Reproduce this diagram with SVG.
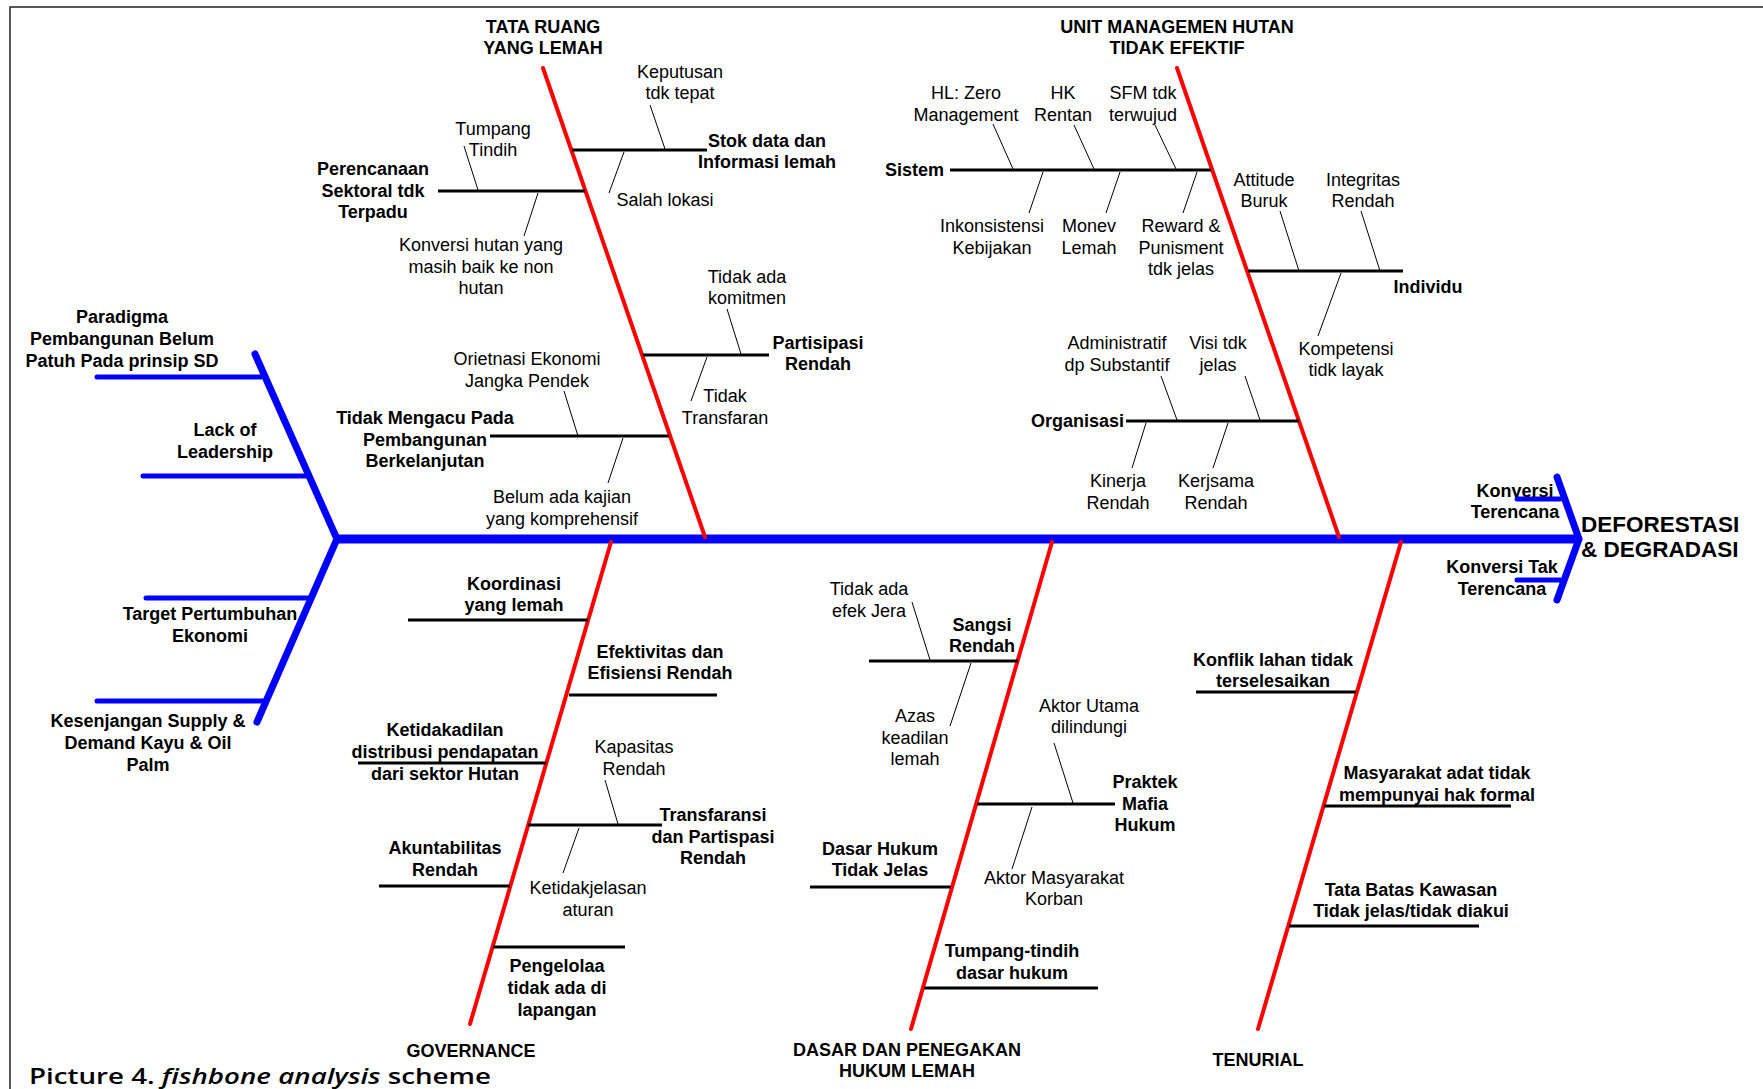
<svg xmlns="http://www.w3.org/2000/svg" width="1763" height="1089" viewBox="0 0 1763 1089">
<style>
text{font-family:"Liberation Sans",Arial,sans-serif;font-size:18px;fill:#000;text-anchor:middle}
.b{font-weight:bold}
.t{font-weight:bold}
.head{font-weight:bold;font-size:22.5px;text-anchor:start}
.cap{font-family:"Open Sans","Noto Sans",sans-serif;font-size:21px;text-anchor:start;font-weight:600}
.spine{stroke:#0000FF;stroke-width:9;fill:none}
.blue{stroke:#0000FF;stroke-width:7;stroke-linecap:round;fill:none}
.bluet{stroke:#0000FF;stroke-width:5;stroke-linecap:round;fill:none}
.red{stroke:#FF0000;stroke-width:4;stroke-linecap:round;fill:none}
.br{stroke:#000;stroke-width:3;fill:none}
.sub{stroke:#000;stroke-width:1;fill:none}
.frame{stroke:#222;stroke-width:1.5;fill:none}
</style>
<rect width="1763" height="1089" fill="#fff"/>
<path class="frame" d="M10,1089 V7 H1763"/>

<g id="connectors">
  <!-- spine and head -->
  <line class="spine" x1="337" y1="539" x2="1575" y2="539"/>
  <polyline class="blue" points="1557,477 1579,539 1557,600" stroke-linejoin="miter"/>
  <polyline class="blue" points="255,354 337,539 257,722" stroke-linejoin="miter"/>
  <line class="bluet" x1="1517" y1="499" x2="1560" y2="499"/>
  <line class="bluet" x1="1517" y1="580" x2="1560" y2="580"/>
  <!-- left blue ribs -->
  <line class="bluet" x1="97" y1="377" x2="261" y2="377"/>
  <line class="bluet" x1="143" y1="476" x2="306" y2="476"/>
  <line class="bluet" x1="146" y1="598" x2="310" y2="598"/>
  <line class="bluet" x1="97" y1="701" x2="263" y2="701"/>
  <!-- red bones -->
  <line class="red" x1="543" y1="68" x2="705" y2="537"/>
  <line class="red" x1="1177" y1="68" x2="1339" y2="537"/>
  <line class="red" x1="611" y1="542" x2="470" y2="1024"/>
  <line class="red" x1="1052" y1="542" x2="911" y2="1029"/>
  <line class="red" x1="1401" y1="542" x2="1258" y2="1029"/>
  <!-- bone 1 ribs -->
  <line class="br" x1="572" y1="150" x2="707" y2="150"/>
  <line class="sub" x1="650" y1="105" x2="665" y2="149"/>
  <line class="sub" x1="624" y1="152" x2="609" y2="193"/>
  <line class="br" x1="438" y1="191" x2="585" y2="191"/>
  <line class="sub" x1="464" y1="146" x2="478" y2="190"/>
  <line class="sub" x1="538" y1="193" x2="524" y2="236"/>
  <line class="br" x1="643" y1="355" x2="769" y2="355"/>
  <line class="sub" x1="727" y1="309" x2="741" y2="354"/>
  <line class="sub" x1="707" y1="357" x2="691" y2="401"/>
  <line class="br" x1="490" y1="436" x2="669" y2="436"/>
  <line class="sub" x1="564" y1="391" x2="578" y2="436"/>
  <line class="sub" x1="623" y1="438" x2="608" y2="483"/>
  <!-- bone 2 ribs -->
  <line class="br" x1="950" y1="170" x2="1211" y2="170"/>
  <line class="sub" x1="993" y1="124" x2="1013" y2="169"/>
  <line class="sub" x1="1074" y1="125" x2="1094" y2="169"/>
  <line class="sub" x1="1155" y1="125" x2="1176" y2="169"/>
  <line class="sub" x1="1043" y1="172" x2="1029" y2="213"/>
  <line class="sub" x1="1120" y1="172" x2="1106" y2="213"/>
  <line class="sub" x1="1197" y1="172" x2="1183" y2="213"/>
  <line class="br" x1="1248" y1="271" x2="1403" y2="271"/>
  <line class="sub" x1="1280" y1="211" x2="1299" y2="271"/>
  <line class="sub" x1="1361" y1="211" x2="1380" y2="271"/>
  <line class="sub" x1="1341" y1="273" x2="1318" y2="336"/>
  <line class="br" x1="1126" y1="421" x2="1299" y2="421"/>
  <line class="sub" x1="1161" y1="376" x2="1177" y2="420"/>
  <line class="sub" x1="1245" y1="376" x2="1260" y2="420"/>
  <line class="sub" x1="1146" y1="423" x2="1132" y2="468"/>
  <line class="sub" x1="1228" y1="423" x2="1213" y2="468"/>
  <!-- bone 3 ribs -->
  <line class="br" x1="408" y1="620" x2="588" y2="620"/>
  <line class="br" x1="569" y1="695" x2="717" y2="695"/>
  <line class="br" x1="358" y1="763" x2="546" y2="763"/>
  <line class="br" x1="528" y1="825" x2="662" y2="825"/>
  <line class="sub" x1="605" y1="780" x2="618" y2="824"/>
  <line class="sub" x1="579" y1="828" x2="563" y2="873"/>
  <line class="br" x1="379" y1="886" x2="510" y2="886"/>
  <line class="br" x1="493" y1="947" x2="625" y2="947"/>
  <!-- bone 4 ribs -->
  <line class="br" x1="869" y1="661" x2="1018" y2="661"/>
  <line class="sub" x1="912" y1="602" x2="930" y2="660"/>
  <line class="sub" x1="971" y1="663" x2="950" y2="726"/>
  <line class="br" x1="977" y1="804" x2="1115" y2="804"/>
  <line class="sub" x1="1054" y1="743" x2="1073" y2="803"/>
  <line class="sub" x1="1032" y1="807" x2="1012" y2="869"/>
  <line class="br" x1="810" y1="887" x2="951" y2="887"/>
  <line class="br" x1="924" y1="988" x2="1098" y2="988"/>
  <!-- bone 5 ribs -->
  <line class="br" x1="1196" y1="692" x2="1356" y2="692"/>
  <line class="br" x1="1324" y1="806" x2="1511" y2="806"/>
  <line class="br" x1="1289" y1="926" x2="1479" y2="926"/>
</g>

<!-- head -->
<g id="n-deforestasi"><text class="head" x="1581" y="532">DEFORESTASI</text><text class="head" x="1581" y="557">&amp; DEGRADASI</text></g>
<g id="n-konversi-terencana"><text class="b" x="1515" y="497">Konversi</text><text class="b" x="1515" y="518">Terencana</text></g>
<g id="n-konversi-tak"><text class="b" x="1502" y="573">Konversi Tak</text><text class="b" x="1502" y="595">Terencana</text></g>

<!-- left tail -->
<g id="n-paradigma"><text class="b" x="122" y="322.5">Paradigma</text><text class="b" x="122" y="344.5">Pembangunan Belum</text><text class="b" x="122" y="366.5">Patuh Pada prinsip SD</text></g>
<g id="n-leadership"><text class="b" x="225" y="435.5">Lack of</text><text class="b" x="225" y="457.5">Leadership</text></g>
<g id="n-target"><text class="b" x="210" y="619.5">Target Pertumbuhan</text><text class="b" x="210" y="641.5">Ekonomi</text></g>
<g id="n-kesenjangan"><text class="b" x="148" y="726.5">Kesenjangan Supply &amp;</text><text class="b" x="148" y="748.5">Demand Kayu &amp; Oil</text><text class="b" x="148" y="770.5">Palm</text></g>

<!-- bone 1 -->
<g id="n-tata-ruang"><text class="t" x="543" y="33">TATA RUANG</text><text class="t" x="543" y="54">YANG LEMAH</text></g>
<g id="n-stok-data"><text class="b" x="767" y="147">Stok data dan</text><text class="b" x="767" y="168">Informasi lemah</text></g>
<g id="n-keputusan"><text x="680" y="78">Keputusan</text><text x="680" y="99">tdk tepat</text></g>
<g id="n-salah-lokasi"><text x="665" y="206">Salah lokasi</text></g>
<g id="n-perencanaan"><text class="b" x="373" y="175">Perencanaan</text><text class="b" x="373" y="196.5">Sektoral tdk</text><text class="b" x="373" y="218">Terpadu</text></g>
<g id="n-tumpang-tindih"><text x="493" y="134.5">Tumpang</text><text x="493" y="156">Tindih</text></g>
<g id="n-konversi-hutan"><text x="481" y="251">Konversi hutan yang</text><text x="481" y="272.5">masih baik ke non</text><text x="481" y="294">hutan</text></g>
<g id="n-partisipasi"><text class="b" x="818" y="349">Partisipasi</text><text class="b" x="818" y="370">Rendah</text></g>
<g id="n-komitmen"><text x="747" y="282.5">Tidak ada</text><text x="747" y="304">komitmen</text></g>
<g id="n-transfaran"><text x="725" y="402">Tidak</text><text x="725" y="424">Transfaran</text></g>
<g id="n-tidak-mengacu"><text class="b" x="425" y="424">Tidak Mengacu Pada</text><text class="b" x="425" y="446">Pembangunan</text><text class="b" x="425" y="467">Berkelanjutan</text></g>
<g id="n-orietnasi"><text x="527" y="364.5">Orietnasi Ekonomi</text><text x="527" y="386.5">Jangka Pendek</text></g>
<g id="n-belum-kajian"><text x="562" y="502.5">Belum ada kajian</text><text x="562" y="524.5">yang komprehensif</text></g>

<!-- bone 2 -->
<g id="n-unit-managemen"><text class="t" x="1177" y="33">UNIT MANAGEMEN HUTAN</text><text class="t" x="1177" y="54">TIDAK EFEKTIF</text></g>
<g id="n-sistem"><text class="b" x="944" y="176" style="text-anchor:end">Sistem</text></g>
<g id="n-hl-zero"><text x="966" y="98.5">HL: Zero</text><text x="966" y="120.5">Management</text></g>
<g id="n-hk-rentan"><text x="1063" y="98.5">HK</text><text x="1063" y="120.5">Rentan</text></g>
<g id="n-sfm"><text x="1143" y="98.5">SFM tdk</text><text x="1143" y="120.5">terwujud</text></g>
<g id="n-inkonsistensi"><text x="992" y="231.5">Inkonsistensi</text><text x="992" y="253.5">Kebijakan</text></g>
<g id="n-monev"><text x="1089" y="231.5">Monev</text><text x="1089" y="253.5">Lemah</text></g>
<g id="n-reward"><text x="1181" y="231.5">Reward &amp;</text><text x="1181" y="253.5">Punisment</text><text x="1181" y="275">tdk jelas</text></g>
<g id="n-individu"><text class="b" x="1428" y="293">Individu</text></g>
<g id="n-attitude"><text x="1264" y="186">Attitude</text><text x="1264" y="207">Buruk</text></g>
<g id="n-integritas"><text x="1363" y="186">Integritas</text><text x="1363" y="207">Rendah</text></g>
<g id="n-kompetensi"><text x="1346" y="354.5">Kompetensi</text><text x="1346" y="376">tidk layak</text></g>
<g id="n-organisasi"><text class="b" x="1124" y="427" style="text-anchor:end">Organisasi</text></g>
<g id="n-administratif"><text x="1117" y="348.5">Administratif</text><text x="1117" y="370.5">dp Substantif</text></g>
<g id="n-visi"><text x="1218" y="348.5">Visi tdk</text><text x="1218" y="370.5">jelas</text></g>
<g id="n-kinerja"><text x="1118" y="486.5">Kinerja</text><text x="1118" y="508.5">Rendah</text></g>
<g id="n-kerjsama"><text x="1216" y="486.5">Kerjsama</text><text x="1216" y="508.5">Rendah</text></g>

<!-- bone 3 -->
<g id="n-governance"><text class="t" x="471" y="1057">GOVERNANCE</text></g>
<g id="n-koordinasi"><text class="b" x="514" y="589.5">Koordinasi</text><text class="b" x="514" y="610.5">yang lemah</text></g>
<g id="n-efektivitas"><text class="b" x="660" y="658">Efektivitas dan</text><text class="b" x="660" y="679">Efisiensi Rendah</text></g>
<g id="n-ketidakadilan"><text class="b" x="445" y="736">Ketidakadilan</text><text class="b" x="445" y="758">distribusi pendapatan</text><text class="b" x="445" y="780">dari sektor Hutan</text></g>
<g id="n-transfaransi"><text class="b" x="713" y="821">Transfaransi</text><text class="b" x="713" y="842.5">dan Partispasi</text><text class="b" x="713" y="864">Rendah</text></g>
<g id="n-kapasitas"><text x="634" y="752.5">Kapasitas</text><text x="634" y="774.5">Rendah</text></g>
<g id="n-ketidakjelasan"><text x="588" y="893.5">Ketidakjelasan</text><text x="588" y="915.5">aturan</text></g>
<g id="n-akuntabilitas"><text class="b" x="445" y="854">Akuntabilitas</text><text class="b" x="445" y="876">Rendah</text></g>
<g id="n-pengelolaa"><text class="b" x="557" y="971.5">Pengelolaa</text><text class="b" x="557" y="993.5">tidak ada di</text><text class="b" x="557" y="1015.5">lapangan</text></g>

<!-- bone 4 -->
<g id="n-dasar-penegakan"><text class="t" x="907" y="1055.5">DASAR DAN PENEGAKAN</text><text class="t" x="907" y="1077">HUKUM LEMAH</text></g>
<g id="n-sangsi"><text class="b" x="982" y="630.5">Sangsi</text><text class="b" x="982" y="651.5">Rendah</text></g>
<g id="n-efek-jera"><text x="869" y="594.5">Tidak ada</text><text x="869" y="616.5">efek Jera</text></g>
<g id="n-azas"><text x="915" y="721.5">Azas</text><text x="915" y="743.5">keadilan</text><text x="915" y="764.5">lemah</text></g>
<g id="n-praktek-mafia"><text class="b" x="1145" y="787.5">Praktek</text><text class="b" x="1145" y="809.5">Mafia</text><text class="b" x="1145" y="831">Hukum</text></g>
<g id="n-aktor-utama"><text x="1089" y="711.5">Aktor Utama</text><text x="1089" y="733">dilindungi</text></g>
<g id="n-aktor-masyarakat"><text x="1054" y="883.5">Aktor Masyarakat</text><text x="1054" y="904.5">Korban</text></g>
<g id="n-dasar-hukum"><text class="b" x="880" y="854.5">Dasar Hukum</text><text class="b" x="880" y="876">Tidak Jelas</text></g>
<g id="n-tumpang-tindih-hukum"><text class="b" x="1012" y="957">Tumpang-tindih</text><text class="b" x="1012" y="978.5">dasar hukum</text></g>

<!-- bone 5 -->
<g id="n-tenurial"><text class="t" x="1258" y="1066">TENURIAL</text></g>
<g id="n-konflik"><text class="b" x="1273" y="665.5">Konflik lahan tidak</text><text class="b" x="1273" y="687">terselesaikan</text></g>
<g id="n-masyarakat-adat"><text class="b" x="1437" y="779">Masyarakat adat tidak</text><text class="b" x="1437" y="800.5">mempunyai hak formal</text></g>
<g id="n-tata-batas"><text class="b" x="1411" y="895.5">Tata Batas Kawasan</text><text class="b" x="1411" y="917">Tidak jelas/tidak diakui</text></g>

<text class="cap" x="29" y="1084" textLength="462" lengthAdjust="spacingAndGlyphs">Picture 4. <tspan font-style="italic">fishbone analysis</tspan> scheme</text>
</svg>
